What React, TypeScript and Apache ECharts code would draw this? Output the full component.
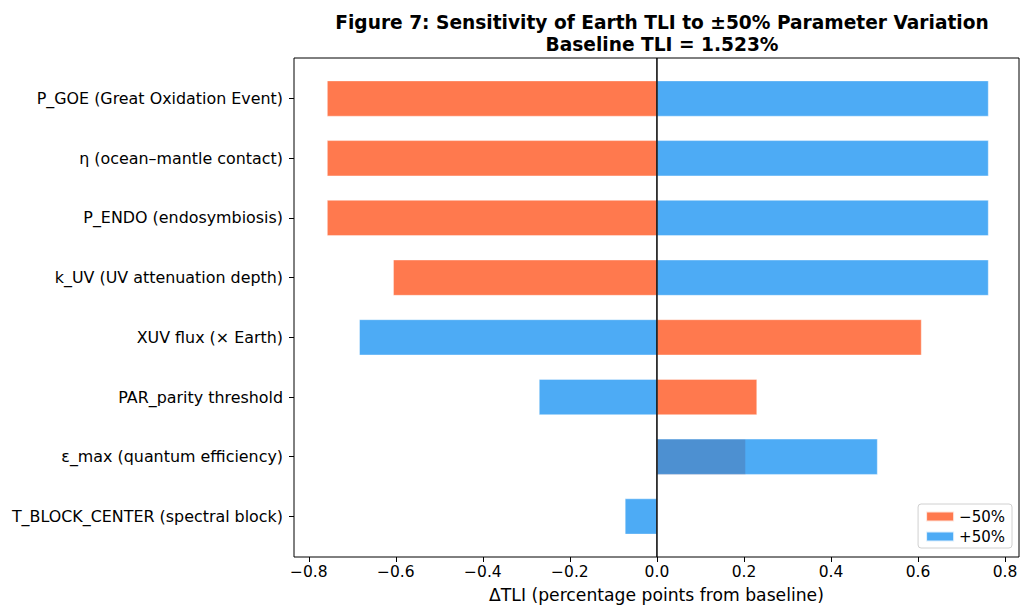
import React, { useEffect, useRef } from "react";
import * as echarts from "echarts";

const categories = [
  "P_GOE (Great Oxidation Event)",
  "η (ocean–mantle contact)",
  "P_ENDO (endosymbiosis)",
  "k_UV (UV attenuation depth)",
  "XUV flux (× Earth)",
  "PAR_parity threshold",
  "ε_max (quantum efficiency)",
  "T_BLOCK_CENTER (spectral block)",
];
const lowValues = [-0.758, -0.758, -0.758, -0.606, 0.608, 0.23, 0.204, 0];
const highValues = [0.762, 0.762, 0.762, 0.762, -0.684, -0.271, 0.507, -0.0735];
const xTicks = [-0.8, -0.6, -0.4, -0.2, 0, 0.2, 0.4, 0.6, 0.8];
const xMin = -0.834;
const xMax = 0.832;

const FONT = "DejaVu Sans";

export default function App() {
  const ref = useRef<HTMLDivElement>(null);
  useEffect(() => {
    if (!ref.current) return;
    const chart = echarts.init(ref.current, null, { renderer: "svg" });
    const fmt = (v: number) => v.toFixed(1).replace("-", "\u2212");
    chart.setOption({
      animation: false,
      backgroundColor: "#ffffff",
      textStyle: { fontFamily: FONT },
      title: {
        text: "Figure 7: Sensitivity of Earth TLI to ±50% Parameter Variation\nBaseline TLI = 1.523%",
        left: 657,
        top: 6,
        textAlign: "center",
        textStyle: { fontFamily: FONT, fontSize: 18.6, fontWeight: "bold", color: "#000", lineHeight: 22 },
      },
      legend: {
        orient: "vertical",
        right: 11,
        bottom: 63,
        itemWidth: 28,
        itemHeight: 10,
        itemGap: 5,
        padding: [5, 7, 4, 7],
        borderColor: "#d0d0d0",
        borderWidth: 1,
        borderRadius: 3,
        backgroundColor: "#ffffff",
        icon: "rect",
        textStyle: { fontFamily: FONT, fontSize: 15, color: "#000" },
        data: ["\u221250%", "+50%"],
      },
      grid: [
        { left: 294, right: 4, top: 58, bottom: 54, show: true, borderColor: "#000", borderWidth: 1, backgroundColor: "transparent" },
        { left: 294, right: 4, top: 68.7, bottom: 64.7 },
      ],
      xAxis: [
        {
          type: "value",
          gridIndex: 0,
          min: xMin,
          max: xMax,
          splitLine: { show: false },
          axisLine: { show: false },
          axisTick: { show: true, length: 5, lineStyle: { color: "#000" }, customValues: xTicks },
          axisLabel: { fontFamily: FONT, fontSize: 15.5, color: "#000", margin: 7, formatter: fmt, customValues: xTicks },
          name: "ΔTLI (percentage points from baseline)",
          nameLocation: "middle",
          nameGap: 29,
          nameTextStyle: { fontFamily: FONT, fontSize: 17.2, color: "#000" },
        },
        {
          type: "value",
          gridIndex: 1,
          min: xMin,
          max: xMax,
          show: false,
        },
      ],
      yAxis: [
        { type: "value", gridIndex: 0, min: 0, max: 1, show: false },
        {
          type: "category",
          gridIndex: 1,
          position: "left",
          data: categories,
          inverse: true,
          axisLine: { show: false, onZero: false },
          axisTick: { show: true, alignWithLabel: true, length: 5, lineStyle: { color: "#000" } },
          axisLabel: { fontFamily: FONT, fontSize: 15.9, color: "#000", margin: 11 },
          splitLine: { show: false },
        },
      ],
      series: [
        {
          name: "\u221250%",
          type: "bar",
          xAxisIndex: 1,
          yAxisIndex: 1,
          data: lowValues,
          barWidth: "60%",
          barGap: "-100%",
          itemStyle: { color: "#FF5722", opacity: 0.8, borderColor: "#ffffff", borderWidth: 0.5 },
          z: 2,
        },
        {
          name: "+50%",
          type: "bar",
          xAxisIndex: 1,
          yAxisIndex: 1,
          data: highValues,
          barWidth: "60%",
          barGap: "-100%",
          itemStyle: { color: "#2196F3", opacity: 0.8, borderColor: "#ffffff", borderWidth: 0.5 },
          z: 3,
        },
        {
          type: "line",
          xAxisIndex: 0,
          yAxisIndex: 0,
          data: [[0, 0], [0, 1]],
          symbol: "none",
          lineStyle: { color: "#000", width: 1.5 },
          z: 10,
          silent: true,
        },
      ],
    });
    return () => chart.dispose();
  }, []);
  return <div ref={ref} style={{ position: "absolute", left: 0, top: 0, width: 1023, height: 611 }} />;
}
